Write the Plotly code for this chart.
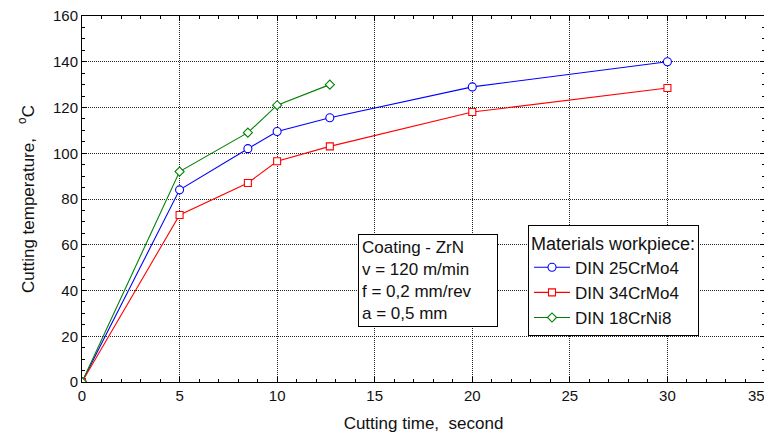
import plotly.graph_objects as go

time_a = [0, 5, 8.5, 10, 12.7, 20, 30]
temp_25CrMo4 = [0, 84, 102, 109.5, 115.5, 129, 140]
temp_34CrMo4 = [0, 73, 87, 96.5, 103, 118, 128.5]
time_b = [0, 5, 8.5, 10, 12.7]
temp_18CrNi8 = [0, 92, 109, 121, 130]
series_names = ["DIN 25CrMo4", "DIN 34CrMo4", "DIN 18CrNi8"]
x_ticks = [0, 5, 10, 15, 20, 25, 30, 35]

FONT = "Liberation Sans, Arial, sans-serif"
TXT = "#111"

fig = go.Figure()
fig.add_trace(go.Scatter(x=time_a, y=temp_25CrMo4, name=series_names[0], mode="lines+markers",
                         line=dict(color="#0000ff", width=1.1),
                         marker=dict(symbol="circle", size=8, color="white", line=dict(color="#0000ff", width=1.1))))
fig.add_trace(go.Scatter(x=time_a, y=temp_34CrMo4, name=series_names[1], mode="lines+markers",
                         line=dict(color="#ff0000", width=1.1),
                         marker=dict(symbol="square", size=7, color="white", line=dict(color="#ff0000", width=1.1))))
fig.add_trace(go.Scatter(x=time_b, y=temp_18CrNi8, name=series_names[2], mode="lines+markers",
                         line=dict(color="#008000", width=1.1),
                         marker=dict(symbol="diamond", size=7, color="white", line=dict(color="#008000", width=1.1))))

axis_common = dict(showline=True, linecolor="black", linewidth=1, mirror="ticks",
                   ticks="inside", ticklen=5, tickcolor="black", automargin=False,
                   showgrid=True, gridcolor="#222", griddash="1px,1px", gridwidth=1,
                   zeroline=False, ticklabeloverflow="allow",
                   tickfont=dict(family=FONT, size=15, color=TXT))

# last x tick label drawn as annotation so it is not clipped at the page edge
fig.update_xaxes(range=[0, 35], tickvals=x_ticks,
                 ticktext=[str(v) for v in x_ticks[:-1]] + [""],
                 title=dict(text="Cutting time,  second", standoff=14, font=dict(family=FONT, size=17, color=TXT)),
                 minor=dict(ticks="inside", ticklen=3, dtick=1, tickcolor="black", showgrid=False),
                 **axis_common)
fig.update_yaxes(range=[0, 160], dtick=20,
                 title=dict(text="Cutting temperature,   <sup>o</sup>C", standoff=14, font=dict(family=FONT, size=17, color=TXT)),
                 minor=dict(ticks="inside", ticklen=3, dtick=5, tickcolor="black", showgrid=False),
                 **axis_common)

fig.add_annotation(xref="x", yref="paper", x=x_ticks[-1], y=0, xanchor="center", yanchor="top",
                   xshift=-9, yshift=-3, text=str(x_ticks[-1]), showarrow=False,
                   font=dict(family=FONT, size=15, color=TXT))

fig.add_annotation(xref="paper", yref="paper", x=0.404, y=0.404, xanchor="left", yanchor="top",
                   text="Coating - ZrN<br>v = 120 m/min<br>f = 0,2 mm/rev<br>a = 0,5 mm",
                   showarrow=False, align="left", width=132, bordercolor="black", borderwidth=1, borderpad=3,
                   bgcolor="white", font=dict(family=FONT, size=17, color=TXT))

fig.update_layout(
    width=764, height=428,
    margin=dict(l=74, r=7, t=8, b=54),
    plot_bgcolor="white", paper_bgcolor="white",
    font=dict(family=FONT, size=15, color=TXT),
    legend=dict(x=0.653, y=0.428, xanchor="left", yanchor="top",
                title=dict(text="Materials workpiece:", font=dict(family=FONT, size=18, color=TXT)),
                bordercolor="black", borderwidth=1, bgcolor="white", itemwidth=36,
                font=dict(family=FONT, size=17, color=TXT), tracegroupgap=0),
)

fig.write_html("out.html")
